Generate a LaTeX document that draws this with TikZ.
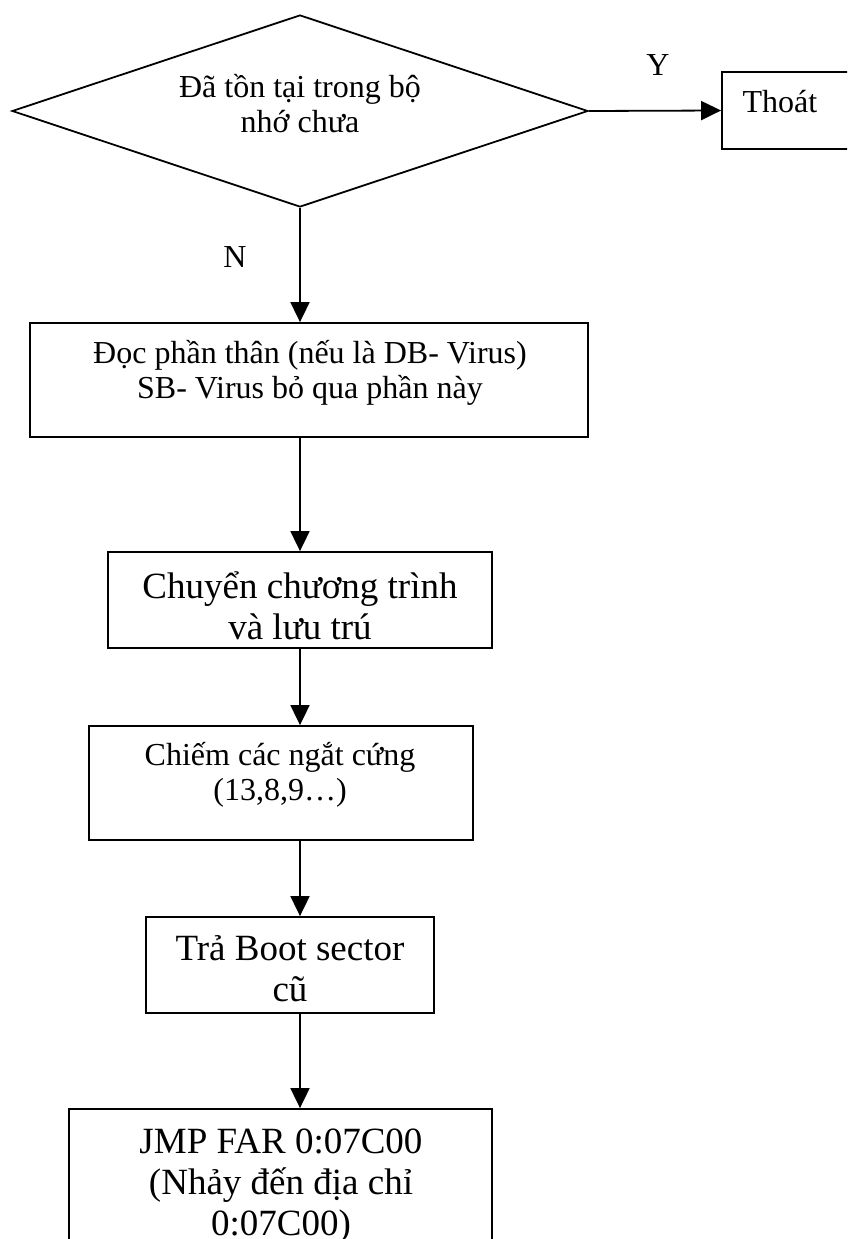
\documentclass[tikz,border=0pt]{standalone}
\usepackage{fontspec}
\setmainfont{Liberation Serif}
\usetikzlibrary{shapes.geometric,arrows.meta}
\begin{document}
\begin{tikzpicture}[x=1pt,y=-1pt,
  line width=1.8pt,
  flow/.style={-{Triangle[length=20pt,width=19pt]}},
  stepbox/.style={draw, rectangle, inner sep=0pt},
  decision/.style={draw, diamond, inner sep=0pt},
  txt/.style={inner sep=0pt, align=center, font={\fontsize{32}{35}\selectfont}},
  bigtxt/.style={inner sep=0pt, align=center, font={\fontsize{37}{41}\selectfont}},
]
\useasboundingbox (0,0) rectangle (847,1239);
\clip (0,0) rectangle (847,1239);

% decision and exit (multi-line text nodes sit on the baseline of their last line)
\node[decision, minimum width=576pt, minimum height=192pt] (d) at (300,111) {};
\node[txt, anchor=base] (dtext) at (300,132) {Đã tồn tại trong bộ\\nhớ chưa};
\node[stepbox, minimum width=158pt, minimum height=77pt] (thoat) at (801,110.5) {};
\node[txt, anchor=base] (thoattext) at (780,112) {Thoát};
\node[txt, anchor=base] (ylab) at (658,75) {Y};
\node[txt, anchor=base] (nlab) at (235,267) {N};

% process steps
\node[stepbox, minimum width=558pt, minimum height=114pt] (b2) at (309,380) {};
\node[txt, anchor=base] (b2text) at (310,398) {Đọc phần thân (nếu là DB- Virus)\\SB- Virus bỏ qua phần này};

\node[stepbox, minimum width=384pt, minimum height=96pt] (b3) at (300,600) {};
\node[bigtxt, anchor=base] (b3text) at (300,639) {Chuyển chương trình\\và lưu trú};

\node[stepbox, minimum width=384pt, minimum height=114pt] (b4) at (281,783) {};
\node[txt, anchor=base] (b4text) at (280,800) {Chiếm các ngắt cứng\\(13,8,9…)};

\node[stepbox, minimum width=288pt, minimum height=96pt] (b5) at (290,965) {};
\node[bigtxt, anchor=base] (b5text) at (290,1001) {Trả Boot sector\\cũ};

\node[stepbox, minimum width=423pt, minimum height=200pt] (b6) at (280.5,1209) {};
\node[bigtxt, anchor=base] (b6text) at (281,1235) {JMP FAR 0:07C00\\(Nhảy đến địa chỉ\\0:07C00)};

% connectors
\draw[flow] (d.east) -- (thoat.west);
\draw[flow] (d.south) -- (d.south |- b2.north);
\draw[flow] (b3.north |- b2.south) -- (b3.north);
\draw[flow] (b3.south) -- (b3.south |- b4.north);
\draw[flow] (b4.south -| b3.center) -- (b5.north -| b3.center);
\draw[flow] (b5.south -| b3.center) -- (b6.north -| b3.center);
\end{tikzpicture}
\end{document}
